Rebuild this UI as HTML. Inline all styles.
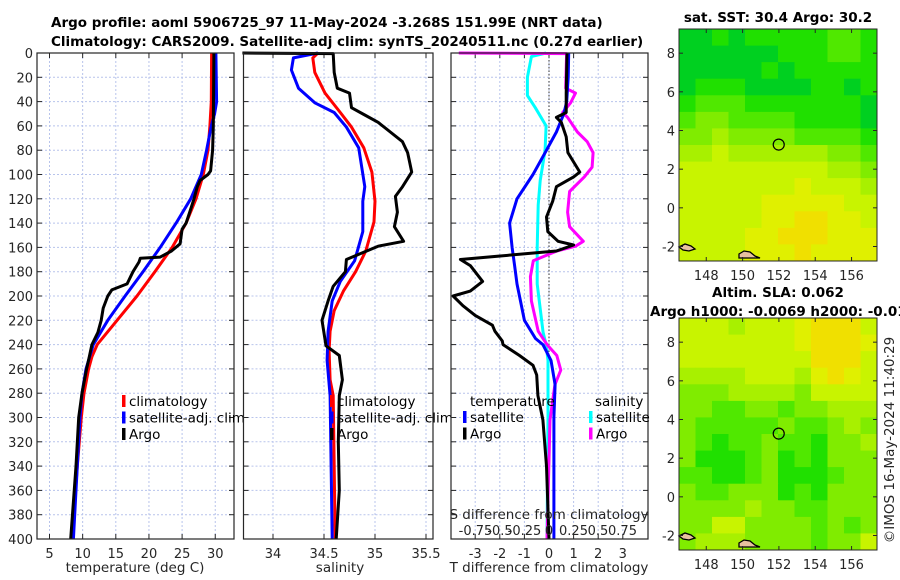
<!DOCTYPE html>
<html><head><meta charset="utf-8">
<style>
html,body{margin:0;padding:0;background:#fff;}
svg{display:block;font-family:"DejaVu Sans","Liberation Sans",sans-serif;}
.tk{font-size:13px;fill:#262626;}
.lab{font-size:13.5px;fill:#262626;}
.ttl{font-size:13.5px;font-weight:bold;fill:#000;}
.leg{font-size:13.5px;fill:#000;}
</style></head>
<body>
<svg id="fig" width="900" height="580" viewBox="0 0 900 580" xmlns="http://www.w3.org/2000/svg">
<text class="ttl" x="51" y="27">Argo profile: aoml 5906725_97 11-May-2024 -3.268S 151.99E (NRT data)</text>
<text class="ttl" x="51" y="46">Climatology: CARS2009. Satellite-adj clim: synTS_20240511.nc (0.27d earlier)</text>
<g id="p1"></g>
<g id="p2"></g>
<g id="p3"></g>
<g id="m1"></g>
<g id="m2"></g>
<text class="ttl" x="778" y="22" text-anchor="middle">sat. SST: 30.4 Argo: 30.2</text>
<text class="ttl" x="778" y="297" text-anchor="middle">Altim. SLA: 0.062</text>
<text class="ttl" x="650" y="316">Argo h1000: -0.0069 h2000: -0.01</text>
<text class="lab" transform="translate(894,440) rotate(-90)" text-anchor="middle">©IMOS 16-May-2024 11:40:29</text>
</svg>
<script>
// ---- depth data ----
const tClimDepth=[0,40,60,80,100,120,140,160,180,200,220,240,250,260,280,300,340,400];
const tClim=[29.45,29.4,29.2,28.9,28.2,27.1,25.6,23.5,20.9,18.2,15.2,12.2,11.4,10.9,10.2,9.8,9.2,8.4];
const tSatDepth=[0,40,50,60,80,100,120,140,160,180,200,220,240,260,280,300,340,400];
const tSat=[30.1,30.2,29.9,29.4,28.7,27.9,26.3,24.1,21.7,19.1,16.4,13.8,11.6,10.5,9.9,9.6,9.2,8.6];
const tArgoDepth=[0,60,80,97,100,105,110,120,130,140,145,157,163,168,169,172,180,190,195,200,210,220,230,240,250,260,280,300,340,400];
const tArgo=[29.8,29.7,29.6,29.3,28.9,27.7,27.3,26.8,26.2,25.6,25.0,24.7,23.4,21.7,18.7,18.5,17.6,16.7,14.4,13.8,13.1,12.8,12.3,11.4,11.0,10.6,9.9,9.4,9.0,8.2];
const sClimDepth=[0,4,16,33,49,61,78,98,122,139,163,180,196,212,229,245,269,282,400];
const sClim=[34.44,34.39,34.41,34.51,34.66,34.77,34.89,34.97,35.0,34.99,34.91,34.81,34.69,34.6,34.56,34.55,34.56,34.59,34.61];
const sSatDepth=[0,4,14,29,41,49,61,78,110,122,147,171,188,204,229,253,282,400];
const sSat=[34.44,34.2,34.18,34.25,34.41,34.6,34.72,34.84,34.9,34.88,34.88,34.8,34.66,34.58,34.54,34.53,34.56,34.58];
const sArgoDepth=[0,0.5,16,29,33,45,51,57,65,73,82,90,98,110,118,131,143,155,159,170,180,192,204,220,241,249,269,282,320,360,400];
const sArgo=[33.7,34.59,34.6,34.63,34.75,34.77,34.9,35.03,35.15,35.27,35.32,35.34,35.36,35.27,35.2,35.22,35.19,35.28,35.03,34.72,34.71,34.59,34.54,34.48,34.52,34.65,34.68,34.65,34.64,34.65,34.62];
const dTSatDepth=[0,20,40,50,65,80,100,120,140,160,175,190,205,220,235,240,253,273,300,350,400];
const dTSat=[0.8,0.78,0.72,0.6,0.3,-0.1,-0.65,-1.3,-1.6,-1.5,-1.4,-1.3,-1.15,-1.0,-0.55,-0.25,0.08,0.25,0.2,0.2,0.2];
const dTArgoDepth=[0,33,49,53,57,69,82,98,102,110,122,135,147,155,158,163,170,175,188,196,200,208,216,224,229,237,240,249,257,265,282,302,340,400];
const dTArgo=[0.73,0.7,0.7,0.3,0.5,0.7,0.77,1.25,1.0,0.3,0.15,-0.1,-0.05,0.37,1.0,0.3,-3.6,-3.2,-2.7,-3.2,-3.9,-3.5,-3.0,-2.3,-2.2,-1.9,-1.87,-1.2,-0.65,-0.5,-0.45,-0.25,-0.1,0.0];
const dSSatDepth=[0,3,20,35,45,60,80,105,125,160,190,230,240,253,300,400];
const dSSat=[-0.03,-0.18,-0.22,-0.22,-0.14,-0.03,-0.04,-0.09,-0.11,-0.12,-0.12,-0.06,-0.03,-0.01,-0.01,-0.02];
const dSArgoDepth=[0,0.5,29,33,41,49,53,65,73,82,94,102,114,131,143,155,159,163,171,184,204,229,240,249,261,273,302,400];
const dSArgo=[-0.92,0.18,0.17,0.27,0.22,0.14,0.19,0.29,0.39,0.45,0.44,0.36,0.21,0.19,0.21,0.35,0.27,0.08,-0.16,-0.19,-0.18,-0.11,-0.02,0.08,0.12,0.06,0.01,-0.02];
// ticks
const depthTicks=[0,20,40,60,80,100,120,140,160,180,200,220,240,260,280,300,320,340,360,380,400];
const tTicks=[5,10,15,20,25,30];
const sTicks=[34,34.5,35,35.5];
const dTTicks=[-3,-2,-1,0,1,2,3];
const dSTicks=[-0.75,-0.5,-0.25,0,0.25,0.5,0.75];
const dSTickLabels=["-0.75","-0.5","-0.25","0","0.25","0.5","0.75"];
// maps (digits 0-9 per cell)
const sstRows=["112122222332","111111222332","111112122222","122211112212","233322222221","344333322221","445444433332","556555555443","666666666554","666666676665","666667777766","666667788776","666677888777","666677787777"];
const slaRows=["666566678886","666666678887","666666668886","555566657876","444555546666","443344344555","433333433454","432334332445","422234232444","332234222344","433444232444","444454433444","446644443434","455544443446"];
const lonTicks=[148,150,152,154,156];
const latTicks=[-2,0,2,4,6,8];
const argoPos=[151.99,3.27];

const NS="http://www.w3.org/2000/svg";
function mk(tag,attrs,parent){const e=document.createElementNS(NS,tag);for(const k in attrs)e.setAttribute(k,attrs[k]);parent.appendChild(e);return e;}
const Y0=53,Y1=539;
const yD=d=>Y0+(d/400)*(Y1-Y0);

function panel(g,x0,x1,xs,ticks,labels,showY){
  mk('rect',{x:x0,y:Y0,width:x1-x0,height:Y1-Y0,fill:'#fff'},g);
  const grid=mk('g',{stroke:'#b8c4ec','stroke-width':1,'stroke-dasharray':'2,2'},g);
  
  
  ticks.forEach(t=>mk('line',{x1:xs(t),x2:xs(t),y1:Y0,y2:Y1},grid));
  depthTicks.forEach(d=>mk('line',{x1:x0,x2:x1,y1:yD(d),y2:yD(d)},grid));
  const tk=mk('g',{stroke:'#262626','stroke-width':1},g);
  depthTicks.forEach(d=>{mk('line',{x1:x0,x2:x0+5,y1:yD(d),y2:yD(d)},tk);mk('line',{x1:x1-5,x2:x1,y1:yD(d),y2:yD(d)},tk);});
  ticks.forEach(t=>{mk('line',{x1:xs(t),x2:xs(t),y1:Y1,y2:Y1-5},tk);mk('line',{x1:xs(t),x2:xs(t),y1:Y0,y2:Y0+5},tk);});
  if(labels) ticks.forEach((t,i)=>{const e=mk('text',{x:xs(t),y:Y1+19,'text-anchor':'middle',class:'tk'},g);e.textContent=labels[i];});
  if(showY) depthTicks.forEach(d=>{const e=mk('text',{x:x0-4,y:yD(d)+5,'text-anchor':'end',class:'tk'},g);e.textContent=d;});
}
function frame(g,x0,x1){const r=mk('rect',{x:x0,y:Y0,width:x1-x0,height:Y1-Y0,fill:'none',stroke:'#262626','stroke-width':1.2},g);}
function line(g,xs,vals,depths,color,name){
  const d=vals.map((v,i)=>(i?'L':'M')+xs(v).toFixed(1)+','+yD(depths[i]).toFixed(1)).join(' ');
  const p=mk('path',{d:d,fill:'none',stroke:color,'stroke-width':3,'stroke-linejoin':'round'},g);
  
  
}
function legend(g,x,y,items){
  items.forEach((it,i)=>{
    const yy=y+i*16.5;
    mk('rect',{x:x,y:yy-11,width:3.5,height:12,fill:it[1]},g);
    const t=mk('text',{x:x+7,y:yy,class:'leg'},g);t.textContent=it[0];
    
    
  });
}
// Panel 1
const p1=document.getElementById('p1');
const xT=v=>49.5+(v-5)*6.63;
panel(p1,37,234,xT,tTicks,tTicks.map(String),true);
line(p1,xT,tClim,tClimDepth,'#ff0000','temp-climatology-line');
line(p1,xT,tSat,tSatDepth,'#0000ff','temp-satellite-line');
line(p1,xT,tArgo,tArgoDepth,'#000000','temp-argo-line');
frame(p1,37,234);
legend(p1,122,406,[['climatology','#ff0000'],['satellite-adj. clim','#0000ff'],['Argo','#000']]);
{const t=mk('text',{x:135,y:572,'text-anchor':'middle',class:'lab'},p1);t.textContent='temperature (deg C)';}
// Panel 2
const p2=document.getElementById('p2');
const xS=v=>273+(v-34)*102;
panel(p2,243.5,433,xS,sTicks,sTicks.map(String),false);
line(p2,xS,sClim,sClimDepth,'#ff0000','sal-climatology-line');
line(p2,xS,sSat,sSatDepth,'#0000ff','sal-satellite-line');
line(p2,xS,sArgo,sArgoDepth,'#000000','sal-argo-line');
frame(p2,243.5,433);
legend(p2,330,406,[['climatology','#ff0000'],['satellite-adj. clim','#0000ff'],['Argo','#000']]);
{const t=mk('text',{x:340,y:572,'text-anchor':'middle',class:'lab'},p2);t.textContent='salinity';}
// Panel 3
const p3=document.getElementById('p3');
const xdT=v=>549+v*24.6;
const xdS=v=>549+v*98;
panel(p3,451,648,xdT,dTTicks,dTTicks.map(String),false);
mk('line',{x1:xdT(0),x2:xdT(0),y1:Y0,y2:Y1,stroke:'#333','stroke-width':1,'stroke-dasharray':'1.5,2'},p3);
line(p3,xdS,dSSat,dSSatDepth,'#00ffff','sal-diff-satellite-line');
line(p3,xdS,dSArgo,dSArgoDepth,'#ff00ff','sal-diff-argo-line');
line(p3,xdT,dTSat,dTSatDepth,'#0000ff','temp-diff-satellite-line');
line(p3,xdT,dTArgo,dTArgoDepth,'#000000','temp-diff-argo-line');
frame(p3,451,648);
{const t=mk('text',{x:470,y:406,class:'leg'},p3);t.textContent='temperature';}
{const t=mk('text',{x:595,y:406,class:'leg'},p3);t.textContent='salinity';}
legend(p3,463,422,[['satellite','#0000ff'],['Argo','#000']]);
legend(p3,589,422,[['satellite','#00ffff'],['Argo','#ff00ff']]);
{const t=mk('text',{x:549,y:519,'text-anchor':'middle',class:'lab'},p3);t.textContent='S difference from climatology';}
dSTicks.forEach((s,i)=>{const t=mk('text',{x:xdS(s),y:535,'text-anchor':'middle',class:'tk'},p3);t.textContent=dSTickLabels[i];});
{const t=mk('text',{x:549,y:572,'text-anchor':'middle',class:'lab'},p3);t.textContent='T difference from climatology';}

// maps
const cmap=['#00c828','#00d020','#20e000','#50e800','#80ec00','#a8f000','#c8f400','#e0f000','#f0e000','#f0c800'];
function map(g,top,rows){
  const L=679,R=877,T=top,B=top+232;
  const lonA=146.5,lonB=157.4,latA=9.25,latB=-2.75;
  const xL=v=>L+(v-lonA)/(lonB-lonA)*(R-L);
  const yL=v=>T+(v-latA)/(latB-latA)*(B-T);
  const nr=rows.length,nc=rows[0].length;
  const cw=(lonB-lonA)/nc,ch=(latA-latB)/nr;
  rows.forEach((row,r)=>{[...row].forEach((c,ci)=>{
    const x=xL(lonA+ci*cw),y=yL(latA-r*ch);
    const e=mk('rect',{x:x.toFixed(1),y:y.toFixed(1),width:(xL(lonA+(ci+1)*cw)-x+0.5).toFixed(1),height:(yL(latA-(r+1)*ch)-y+0.5).toFixed(1),fill:cmap[+c]},g);
    
    
  });});
  // small islands near bottom-left
  mk('path',{d:`M${L},${B-14} l6,-3 l6,2 l4,3 l-6,2 l-6,-1 z`,fill:'#e8c0a0',stroke:'#000','stroke-width':1.3},g);
  mk('path',{d:`M${L+60},${B-7} l5,-3 l6,1 l5,4 l5,2 l-21,0 z`,fill:'#e8c0a0',stroke:'#000','stroke-width':1.3},g);
  const c=mk('circle',{cx:xL(argoPos[0]),cy:yL(argoPos[1]),r:5.5,fill:'none',stroke:'#000','stroke-width':1.2},g);
  
  
  const fr=mk('rect',{x:L,y:T,width:R-L,height:B-T,fill:'none',stroke:'#262626','stroke-width':1},g);
  
  
  lonTicks.forEach(v=>{mk('line',{x1:xL(v),x2:xL(v),y1:B,y2:B-4,stroke:'#262626'},g);mk('line',{x1:xL(v),x2:xL(v),y1:T,y2:T+4,stroke:'#262626'},g);
    const t=mk('text',{x:xL(v),y:B+19,'text-anchor':'middle',class:'tk'},g);t.textContent=v;});
  latTicks.forEach(v=>{mk('line',{x1:L,x2:L+4,y1:yL(v),y2:yL(v),stroke:'#262626'},g);mk('line',{x1:R-4,x2:R,y1:yL(v),y2:yL(v),stroke:'#262626'},g);
    const t=mk('text',{x:L-4,y:yL(v)+5,'text-anchor':'end',class:'tk'},g);t.textContent=v;});
}
map(document.getElementById('m1'),29,sstRows);
map(document.getElementById('m2'),318,slaRows);
</script>
</body></html>
